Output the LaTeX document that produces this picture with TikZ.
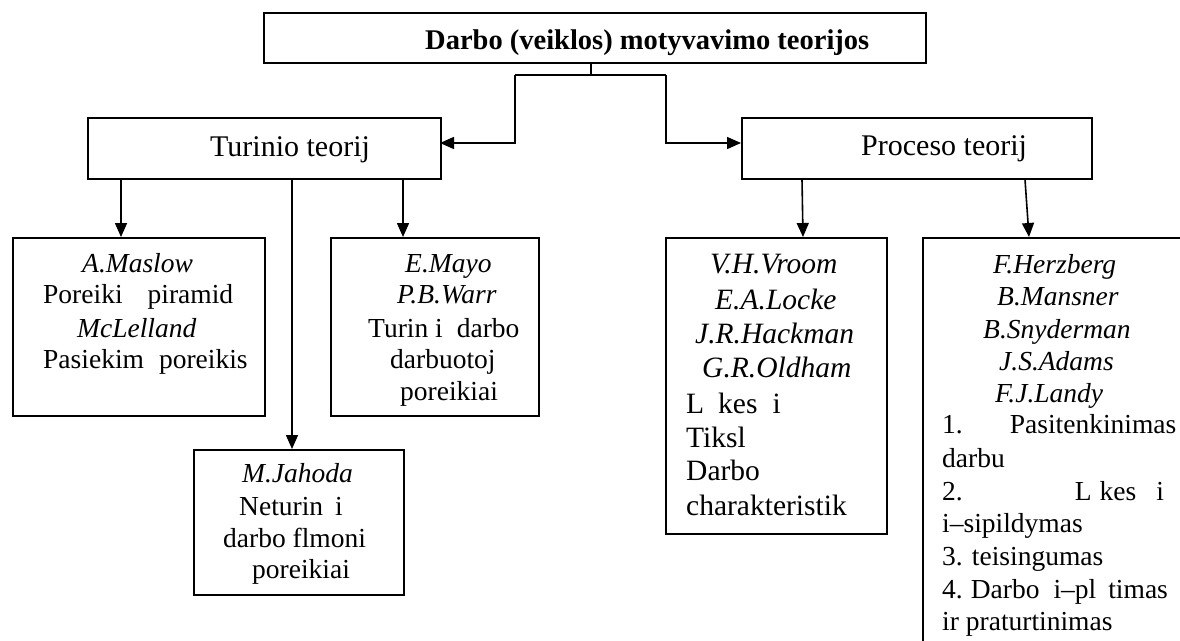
\documentclass[tikz,border=0pt]{standalone}
\usepackage{fontspec}
\setmainfont{Liberation Serif}
\usetikzlibrary{arrows.meta}
\begin{document}
\begin{tikzpicture}[x=1pt,y=-1pt,
  box/.style={draw,line width=1.6pt,inner sep=0pt,anchor=north west},
  con/.style={line width=1.6pt},
  arr/.style={con,-{Triangle[length=14pt,width=12pt]}},
  t/.style={anchor=base west,inner sep=0pt,font=\fontsize{27.5}{33}\selectfont},
  tv/.style={anchor=base west,inner sep=0pt,font=\fontsize{29.5}{35}\selectfont},
  th/.style={anchor=base west,inner sep=0pt,font=\fontsize{30}{36}\selectfont},
  ti/.style={anchor=base west,inner sep=0pt,font=\fontsize{28.5}{34}\selectfont\bfseries}]
\useasboundingbox (0,0) rectangle (1180,640);
% boxes
\node[box,minimum width=662pt,minimum height=50pt] (top) at (263,12) {};
\node[box,minimum width=353pt,minimum height=61pt] (tur) at (87,117) {};
\node[box,minimum width=350pt,minimum height=61pt] (proc) at (741,117) {};
\node[box,minimum width=252pt,minimum height=178pt] (mas) at (12,237) {};
\node[box,minimum width=208pt,minimum height=178pt] (mayo) at (330,237) {};
\node[box,minimum width=210pt,minimum height=145pt] (jah) at (193,449) {};
\node[box,minimum width=221pt,minimum height=296pt] (vroom) at (665,237) {};
\begin{scope}
\clip (0,0) rectangle (1180,640);
\node[box,minimum width=290pt,minimum height=430pt] (herz) at (922,237) {};
\end{scope}
% headings
\node[ti] (title) at (425,49) {Darbo (veiklos) motyvavimo teorijos};
\node[th] (turt) at (210,156) {Turinio teorij};
\node[th] (proct) at (861,155) {Proceso teorij};
% connectors
\coordinate (j) at (591,75);
\coordinate (jl) at (515,75);
\coordinate (jr) at (666,75);
\coordinate (ta) at (440,143);
\coordinate (pa) at (741,143);
\draw[con] (top.south -| j) -- (j);
\draw[con] (jl) -- (jr);
\draw[arr] (jl) |- (ta);
\draw[arr] (jr) |- (pa);
\coordinate (x1) at (121,0);
\coordinate (x2) at (292,0);
\coordinate (x3) at (403,0);
\coordinate (x4a) at (802,0);
\coordinate (x4b) at (803,0);
\coordinate (x5a) at (1025,0);
\coordinate (x5b) at (1029,0);
\draw[arr] (tur.south -| x1) -- (mas.north -| x1);
\draw[arr] (tur.south -| x2) -- (jah.north -| x2);
\draw[arr] (tur.south -| x3) -- (mayo.north -| x3);
\draw[arr] (proc.south -| x4a) -- (vroom.north -| x4b);
\draw[arr] (proc.south -| x5a) -- (herz.north -| x5b);
% Maslow
\node[t] (m1) at (82,272) {\itshape A.Maslow};
\node[t] (m2) at (43,303) {Poreiki\hspace{25pt}piramid};
\node[t] (m3) at (77,337) {\itshape McLelland};
\node[t] (m4) at (43,368) {Pasiekim\hspace{15pt}poreikis};
% Mayo
\node[t] (y1) at (405,272) {\itshape E.Mayo};
\node[t] (y2) at (397,303) {\itshape P.B.Warr};
\node[t] (y3) at (368,337) {Turin i\hspace{14pt}darbo};
\node[t] (y4) at (390,368) {darbuotoj};
\node[t] (y5) at (400,400) {poreikiai};
% Jahoda
\node[t] (h1) at (242,482) {\itshape M.Jahoda};
\node[t] (h2) at (239,515) {Neturin\hspace{12pt}i};
\node[t] (h3) at (223,547) {darbo flmoni};
\node[t] (h4) at (252,578) {poreikiai};
% Vroom
\node[tv] (v1) at (710,273) {\itshape V.H.Vroom};
\node[tv] (v2) at (715,309) {\itshape E.A.Locke};
\node[tv] (v3) at (695,343) {\itshape J.R.Hackman};
\node[tv] (v4) at (702,377) {\itshape G.R.Oldham};
\node[tv] (v5) at (686,413) {L\hspace{14pt}kes\hspace{15pt}i};
\node[tv] (v6) at (686,447) {Tiksl};
\node[tv] (v7) at (686,480) {Darbo};
\node[tv] (v8) at (686,515) {charakteristik};
% Herzberg
\node[t] (z1) at (993,273) {\itshape F.Herzberg};
\node[t] (z2) at (997,305) {\itshape B.Mansner};
\node[t] (z3) at (983,338) {\itshape B.Snyderman};
\node[t] (z4) at (999,370) {\itshape J.S.Adams};
\node[t] (z5) at (995,402) {\itshape F.J.Landy};
\node[t] (z6) at (942,433) {1.\hspace{47pt}Pasitenkinimas};
\node[t] (z7) at (942,467) {darbu};
\node[t] (z8) at (942,500) {2.\hspace{112pt}L\hspace{8pt}kes\hspace{20pt}i};
\node[t] (z9) at (942,532) {i–sipildymas};
\node[t] (z10) at (942,565) {3. teisingumas};
\node[t] (z11) at (942,598) {4.\hspace{8pt}Darbo\hspace{14pt}i–pl\hspace{12pt}timas};
\node[t] (z12) at (942,630) {ir praturtinimas};
\end{tikzpicture}
\end{document}
